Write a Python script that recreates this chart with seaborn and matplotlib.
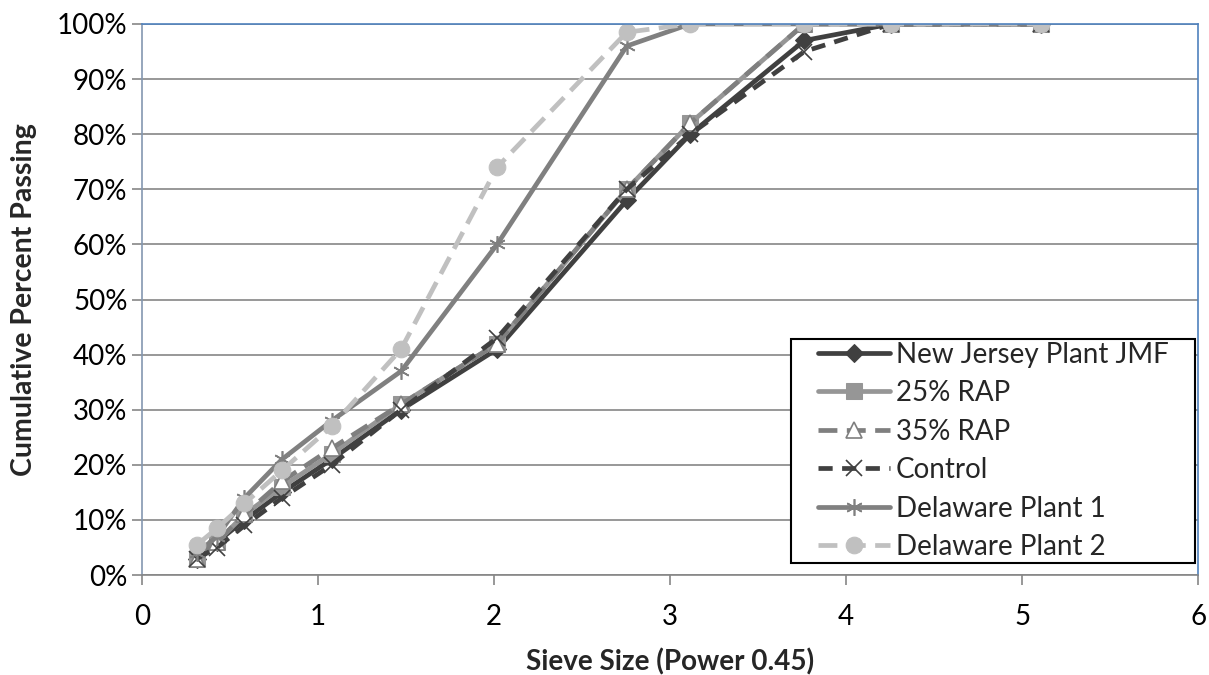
import matplotlib
matplotlib.use("Agg")
import matplotlib.pyplot as plt
import seaborn as sns
from matplotlib.ticker import FuncFormatter
from matplotlib.path import Path

sieve_x = [0.312, 0.426, 0.582, 0.795, 1.077, 1.472, 2.017, 2.754, 3.115, 3.763, 4.257, 5.110]

nj_jmf = [3, 6, 10, 15, 21, 30, 41, 68, 80, 97, 100, 100]
rap25 = [3, 6, 11, 16, 22, 31, 42, 70, 82, 100, 100, 100]
rap35 = [3, 6, 11, 17, 23, 31, 42, 70, 82, 100, 100, 100]
control = [3, 5, 9, 14, 20, 30, 43, 70, 80, 95, 100, 100]
delaware1 = [4, 7, 14, 21, 28, 37, 60, 96, 100, 100, 100, 100]
delaware2 = [5.5, 8.5, 13, 19, 27, 41, 74, 98.5, 100, 100, 100, 100]

series_names = ["New Jersey Plant JMF", "25% RAP", "35% RAP", "Control",
                "Delaware Plant 1", "Delaware Plant 2"]
series_vals = [nj_jmf, rap25, rap35, control, delaware1, delaware2]

styles = [
    dict(color="#404040", linestyle="-", marker="D", markersize=9,
         markerfacecolor="#404040", markeredgecolor="#404040"),
    dict(color="#969696", linestyle="-", marker="s", markersize=11,
         markerfacecolor="#969696", markeredgecolor="#969696"),
    dict(color="#7f7f7f", linestyle=(0, (4, 2)), marker="^", markersize=11,
         markerfacecolor="white", markeredgecolor="#7f7f7f", markeredgewidth=1.2),
    dict(color="#404040", linestyle=(0, (3, 2)), marker="x", markersize=11,
         markerfacecolor="#404040", markeredgecolor="#404040", markeredgewidth=1.2),
    dict(color="#808080", linestyle="-", marker=(6, 2, 0), markersize=12,
         markerfacecolor="#808080", markeredgecolor="#808080", markeredgewidth=1.2),
    dict(color="#c0c0c0", linestyle=(0, (4, 2)), marker="o", markersize=12,
         markerfacecolor="#c0c0c0", markeredgecolor="#c0c0c0"),
]

sns.set_style("white")
plt.rcParams["font.family"] = ["Lato", "DejaVu Sans"]

fig = plt.figure(figsize=(12.09, 6.75), dpi=100)
ax = fig.add_axes([0.1175, 0.148, 0.8735, 0.8165])

for name, vals, st in zip(series_names, series_vals, styles):
    sns.lineplot(x=sieve_x, y=vals, ax=ax, label=name, linewidth=3.4,
                 sort=False, **st)

ax.set_xlim(0, 6)
ax.set_ylim(0, 100)
ax.set_xticks(range(0, 7))
ax.set_yticks(range(0, 101, 10))
ax.yaxis.set_major_formatter(FuncFormatter(lambda v, p: f"{int(v)}%"))
ax.tick_params(axis="both", labelsize=20, length=7, width=1.2, color="#868686",
               direction="out", left=True, bottom=True, labelcolor="black")
ax.tick_params(axis="x", pad=14)
ax.yaxis.grid(True, color="#868686", linewidth=1.2)
ax.xaxis.grid(False)
ax.set_axisbelow(True)

ax.spines["left"].set_color("#8497b0")
ax.spines["bottom"].set_color("#868686")
ax.spines["top"].set_color("#4f81bd")
ax.spines["right"].set_color("#4f81bd")
for s in ax.spines.values():
    s.set_linewidth(1.2)

ax.set_xlabel("Sieve Size (Power 0.45)", fontsize=20, fontweight="bold", labelpad=13)
ax.set_ylabel("Cumulative Percent Passing", fontsize=20.5, fontweight="bold", labelpad=14)

leg = ax.legend(loc="lower right", bbox_to_anchor=(0.9745, 0.022), fontsize=20,
                frameon=True, fancybox=False, edgecolor="black", framealpha=1,
                handlelength=2.6, borderpad=0.1, labelspacing=0.45,
                handletextpad=0.2, borderaxespad=0.0)
leg.get_frame().set_linewidth(1.5)


def wide_box(x0, y0, width, height, mutation_size):
    px = 0.85 * mutation_size
    x1 = x0 + width + px
    x0 = x0 - px
    y1 = y0 + height
    return Path([(x0, y0), (x1, y0), (x1, y1), (x0, y1), (x0, y0)], closed=True)


leg.get_frame().set_boxstyle(wide_box)

fig.savefig("out.png", dpi=100)
